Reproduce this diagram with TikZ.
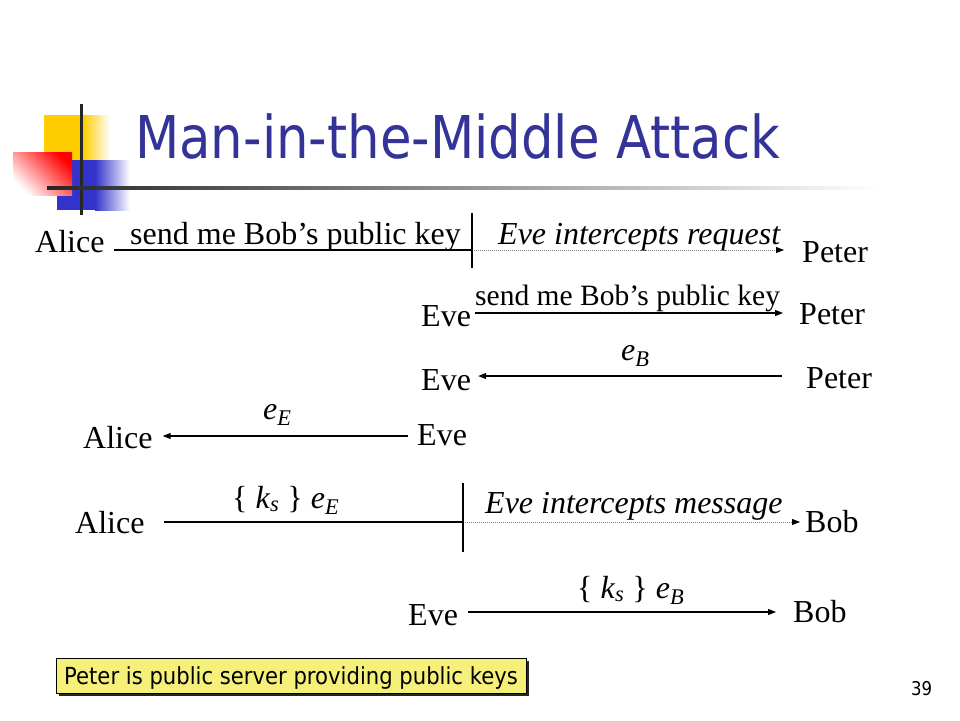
\documentclass[tikz,border=0pt]{standalone}
\usepackage{fontspec}
\setmainfont{Liberation Serif}
\newfontfamily\tahoma[FakeStretch=0.87]{DejaVu Sans}
\newfontfamily\tahomanote[FakeStretch=0.9]{DejaVu Sans}
\usepackage{xcolor}
\usetikzlibrary{positioning,calc,arrows.meta,shadows}
\definecolor{titleblue}{HTML}{333399}
\definecolor{logoyellow}{HTML}{FFCC00}
\definecolor{logoblue}{HTML}{3333CC}
\definecolor{noteyellow}{HTML}{F5F07A}
\newcommand{\ikey}[2]{\textit{#1}\textsubscript{\textit{#2}}}

\begin{document}
\begin{tikzpicture}[
					x=1pt, y=-1pt,
					actor/.style={font=\fontsize{32}{38}\selectfont, inner sep=0pt, anchor=base west},
					msgtext/.style={font=\fontsize{32}{38}\selectfont, inner sep=0pt, anchor=base west},
					evetext/.style={font=\fontsize{32}{38}\selectfont\itshape, inner sep=0pt, anchor=base west},
					msg/.style={-{Triangle[length=8pt,width=6pt]}, line width=1.1pt},
					plain/.style={line width=1.1pt},
					intercepted/.style={-{Triangle[length=8pt,width=6pt,black]}, gray, line width=0.8pt, dash pattern=on 0.8pt off 1.2pt},
					cutbar/.style={line width=1.1pt},
					note/.style={draw=black, line width=0.8pt, fill=noteyellow, font=\tahomanote\fontsize{23.5}{28}\selectfont,
						minimum width=470pt, minimum height=35pt, text height=17pt, text depth=0pt,
						drop shadow={shadow xshift=3pt, shadow yshift=-3pt, fill=black!85, opacity=1}}
					]
					\useasboundingbox (0,0) rectangle (960,720);
					
					% ===== LOGO =====
					\fill[logoyellow] (44,115) rectangle (83,160);
					\shade[left color=logoyellow, right color=white] (83,115) rectangle (110,160);
					\fill[logoblue] (57,160) rectangle (95,210);
					\shade[left color=logoblue, right color=white] (95,160) rectangle (130,210);
					\shade[top color=red, bottom color=white, shading angle=-45] (13,152) rectangle (72,195);
					\draw[line width=3pt, black!85] (81,104) -- (81,215);
					\shade[left color=black!85, middle color=black!45, right color=white] (47,186.5) rectangle (880,189.5);
					
					% ===== TITLE =====
					\node[font=\tahoma\fontsize{59}{70}\selectfont, text=titleblue, inner sep=0pt, anchor=base west] (title) at (135,158) {Man-in-the-Middle Attack};
					
					% ===== ROW 1 =====
					\node[actor] (alice1) at (35,252) {Alice};
					\node[actor] (peter1) at (802,262) {Peter};
					\coordinate (cut1) at (472,250);
					\node[msgtext] (req1) at (130,244) {send me Bob’s public key};
					\node[evetext] (evereq) at (498,244) {Eve intercepts request};
					\draw[plain, shorten <=9pt] (alice1.east |- cut1) -- (cut1);
					\draw[intercepted, shorten >=18pt] (cut1) -- (peter1.west |- cut1);
					\draw[cutbar] ([yshift=37pt]cut1) -- ([yshift=-18pt]cut1);
					
					% ===== ROW 2 =====
					\node[actor] (eve2) at (421,326) {Eve};
					\node[actor] (peter2) at (799,324) {Peter};
					\coordinate (y2) at (0,313);
					\node[msgtext, font=\fontsize{29.5}{35}\selectfont] (req2) at (475,305) {send me Bob’s public key};
					\draw[msg, shorten <=4pt, shorten >=16pt] (eve2.east |- y2) -- (peter2.west |- y2);
					
					% ===== ROW 3 =====
					\node[actor] (eve3) at (421,390) {Eve};
					\node[actor] (peter3) at (806,388) {Peter};
					\coordinate (y3) at (0,376);
					\node[msgtext] (key3) at (621,360) {\ikey{e}{B}};
					\draw[msg, shorten <=24pt, shorten >=7pt] (peter3.west |- y3) -- (eve3.east |- y3);
					
					% ===== ROW 4 =====
					\node[actor] (alice4) at (83,448) {Alice};
					\node[actor] (eve4) at (417,445) {Eve};
					\coordinate (y4) at (0,436);
					\node[msgtext] (key4) at (263,419) {\ikey{e}{E}};
					\draw[msg, shorten <=9pt, shorten >=10pt] (eve4.west |- y4) -- (alice4.east |- y4);
					
					% ===== ROW 5 =====
					\node[actor] (alice5) at (75,533) {Alice};
					\node[actor] (bob5) at (805,532) {Bob};
					\coordinate (cut5) at (463,522);
					\node[msgtext] (sess5) at (232,508) {\{~\ikey{k}{s}~\}~\ikey{e}{E}};
					\node[evetext] (evemsg) at (485,513) {Eve intercepts message};
					\draw[plain, shorten <=19pt] (alice5.east |- cut5) -- (cut5);
					\draw[intercepted, shorten >=5pt] (cut5) -- (bob5.west |- cut5);
					\draw[cutbar] ([yshift=39pt]cut5) -- ([yshift=-30pt]cut5);
					
					% ===== ROW 6 =====
					\node[actor] (eve6) at (408,625) {Eve};
					\node[actor] (bob6) at (793,622) {Bob};
					\coordinate (y6) at (0,612);
					\node[msgtext] (sess6) at (577,598) {\{~\ikey{k}{s}~\}~\ikey{e}{B}};
					\draw[msg, shorten <=10pt, shorten >=17pt] (eve6.east |- y6) -- (bob6.west |- y6);
					
					% ===== NOTE + PAGE =====
					\node[note] (note) at (291,675.5) {Peter is public server providing public keys};
					\node[font=\tahoma\fontsize{19}{23}\selectfont, inner sep=0pt, anchor=base west] (page) at (911,695) {39};
				\end{tikzpicture}
\end{document}
